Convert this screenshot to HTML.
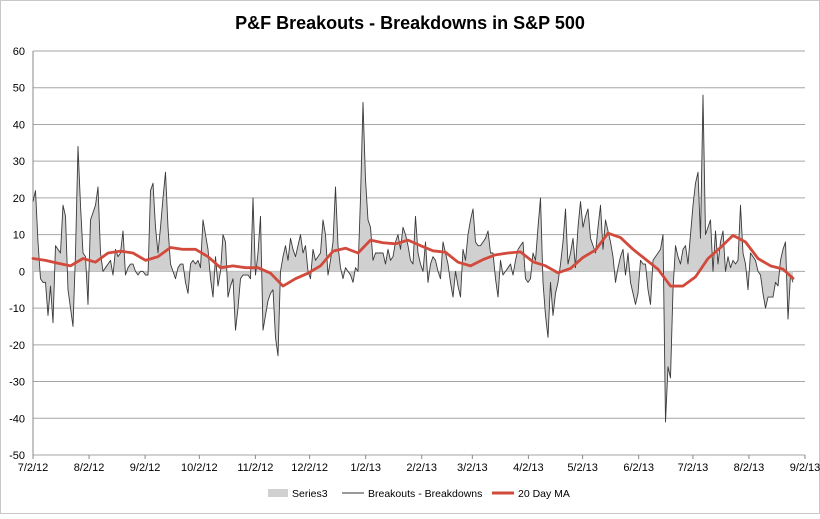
<!DOCTYPE html>
<html><head><meta charset="utf-8">
<style>
html,body{margin:0;padding:0;background:#fff;}
body{width:820px;height:514px;overflow:hidden;font-family:"Liberation Sans",Arial,sans-serif;}
svg text{font-family:"Liberation Sans",Arial,sans-serif;}
</style></head>
<body>
<svg id="chart" width="820" height="514" viewBox="0 0 820 514" xmlns="http://www.w3.org/2000/svg">
<rect x="0.5" y="0.5" width="819" height="513" fill="#fff" stroke="#c8c8c8"/>
<text x="410" y="29" text-anchor="middle" font-size="18" font-weight="bold" fill="#000">P&amp;F Breakouts - Breakdowns in S&amp;P 500</text>
<g id="grid"></g>
<g id="yaxis"></g>
<g id="xaxis"></g>
<g id="series"></g>
<g id="legend">
  <rect x="268" y="489" width="20" height="8" fill="#d0d0d0"/>
  <text x="292" y="497" font-size="10.5" fill="#000">Series3</text>
  <line x1="342" y1="493" x2="364" y2="493" stroke="#333" stroke-width="1"/>
  <text x="368" y="497" font-size="10.5" fill="#000">Breakouts - Breakdowns</text>
  <line x1="492" y1="493" x2="514" y2="493" stroke="#d24a3c" stroke-width="3"/>
  <text x="518" y="497" font-size="10.5" fill="#000">20 Day MA</text>
</g>
</svg>
<script>
const yTicks = [60,50,40,30,20,10,0,-10,-20,-30,-40,-50];
const xTickLabels = ["7/2/12","8/2/12","9/2/12","10/2/12","11/2/12","12/2/12","1/2/13","2/2/13","3/2/13","4/2/13","5/2/13","6/2/13","7/2/13","8/2/13","9/2/13"];
const xTickDays = [0,31,62,92,123,153,184,215,243,274,304,335,365,396,427];
const values = [19,22,8,-2,-3,-3,-12,-4,-14,7,6,5,18,15,-5,-10,-15,5,34,
18,5,4,-9,14,16,18,23,5,0,1,2,3,-1,6,4,5,11,-1,1,2,2,0,-1,0,0,-1,-1,22,24,12,5,12,20,27,12,2,
0,-2,1,2,2,-3,-6,2,3,2,3,1,14,10,6,-2,-7,4,-4,0,10,8,-7,-4,-2,-16,-10,-2,-1,-1,-1,-2,20,-1,5,15,-16,-12,-8,-6,-5,-18,-23,0,4,7,3,9,6,4,7,10,5,
7,0,-2,6,3,4,5,14,10,-1,3,8,23,7,1,-2,1,0,-1,-3,1,0,20,46,25,14,12,3,5,5,5,5,2,6,3,4,8,10,6,12,10,7,3,2,15,5,2,0,8,-3,2,4,3,0,
-2,8,5,2,-3,-7,0,-4,-7,6,3,10,14,17,8,7,7,8,9,11,5,5,-2,-7,3,-1,0,1,2,-1,3,6,7,8,-2,-3,-2,5,3,12,20,-3,-12,-18,-3,-12,-6,-3,2,8,17,2,5,9,
1,12,19,12,15,17,9,7,5,12,18,6,14,11,8,4,-3,1,4,6,-1,5,-3,-6,-9,-6,3,2,2,-5,-9,3,4,5,6,10,-41,-26,-29,-5,7,4,2,6,7,2,10,18,24,27,9,48,10,12,
14,0,11,2,8,11,0,4,1,3,2,3,18,5,2,-5,5,4,3,0,-1,-6,-10,-7,-7,-7,-3,-4,3,6,8,-13,-1,-3];
const maIndex = [0,5,10,15,20,25,30,35,40,45,50,55,60,65,70,75,80,85,90,95,100,105,110,115,120,125,130,135,140,145,150,155,160,165,170,175,180,185,190,195,200,205,210,215,220,225,230,235,240,245,250,255,260,265,270,275,280,285,290,295,300,304];
const maValues = [3.5,3,2.2,1.5,3.5,2.5,5,5.5,5,3,4,6.5,6,6,4,1,1.5,1,1,-0.5,-4,-2,-0.5,1.5,5.5,6.3,5,8.5,7.8,7.5,8.5,7,5.6,5.2,2.5,1.5,3.2,4.5,5,5.3,2.6,1.5,-0.4,0.8,3.8,5.8,10.4,9.2,6,3.3,0.6,-4,-4,-1.5,3.5,6.5,9.8,8,3.5,1.5,0.6,-1.9];

const NS = "http://www.w3.org/2000/svg";
const X0 = 33, X1 = 793, AXR = 805, YT = 51, YB = 455, VMAX = 60, VMIN = -50, TOTAL_DAYS = 427;
function yScale(v){ return YT + (VMAX - v) * (YB - YT) / (VMAX - VMIN); }
function xScale(i){ return X0 + i * (X1 - X0) / (values.length - 1); }
function dayScale(d){ return X0 + d * (AXR - X0) / TOTAL_DAYS; }
function mk(tag, attrs, parent){ const e = document.createElementNS(NS, tag); for (const k in attrs) e.setAttribute(k, attrs[k]); parent.appendChild(e); return e; }

const grid = document.getElementById('grid');
const yaxis = document.getElementById('yaxis');
yTicks.forEach(t => {
  const y = yScale(t);
  const gl = mk('line', {x1: X0, x2: AXR, y1: y, y2: y, stroke: '#a6a6a6', 'stroke-width': 1}, grid);
  
  
  const tx = mk('text', {x: 25, y: y + 4, 'text-anchor': 'end', 'font-size': 11, fill: '#000'}, yaxis);
  tx.textContent = t;
  
  
});
const yl = mk('line', {x1: X0, x2: X0, y1: YT, y2: YB, stroke: '#888', 'stroke-width': 1}, yaxis);



const xaxis = document.getElementById('xaxis');
xTickLabels.forEach((lab, k) => {
  const x = dayScale(xTickDays[k]);
  const tk = mk('line', {x1: x, x2: x, y1: YB, y2: YB + 4, stroke: '#888', 'stroke-width': 1}, xaxis);
  
  
  const tx = mk('text', {x: x, y: YB + 16, 'text-anchor': 'middle', 'font-size': 11, fill: '#000'}, xaxis);
  tx.textContent = lab;
  
  
});

const series = document.getElementById('series');
const y0 = yScale(0);
let area = 'M' + xScale(0) + ',' + y0;
let line = '';
values.forEach((v, i) => {
  area += ' L' + xScale(i).toFixed(2) + ',' + yScale(v).toFixed(2);
  line += (i ? ' L' : 'M') + xScale(i).toFixed(2) + ',' + yScale(v).toFixed(2);
});
area += ' L' + xScale(values.length - 1) + ',' + y0 + ' Z';
const ap = mk('path', {d: area, fill: '#d0d0d0', stroke: 'none'}, series);


const lp = mk('path', {d: line, fill: 'none', stroke: '#3a3a3a', 'stroke-width': 0.9, 'stroke-linejoin': 'round'}, series);


let ma = '';
maValues.forEach((v, k) => {
  ma += (k ? ' L' : 'M') + xScale(maIndex[k]).toFixed(2) + ',' + yScale(v).toFixed(2);
});
const mp = mk('path', {d: ma, fill: 'none', stroke: '#d24a3c', 'stroke-width': 2.8, 'stroke-linejoin': 'round', 'stroke-linecap': 'round'}, series);


</script>
</body></html>
